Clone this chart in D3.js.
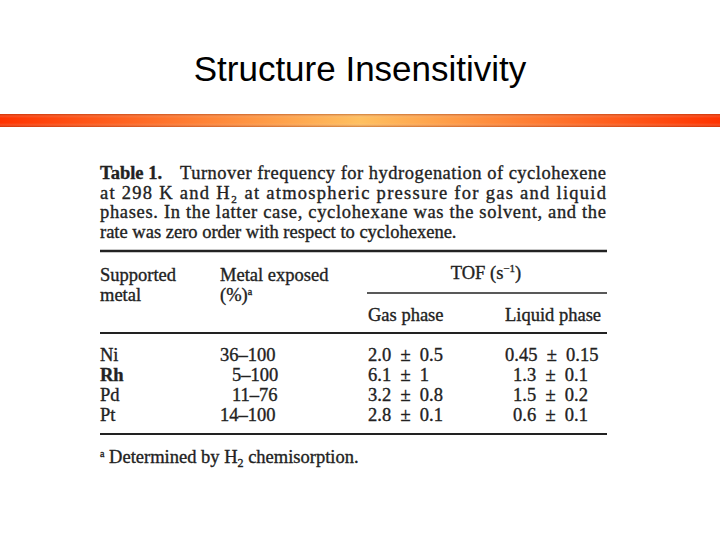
<!DOCTYPE html>
<html><head><meta charset="utf-8">
<script src="https://cdn.jsdelivr.net/npm/d3@7"></script>
<style>body{margin:0;background:#fff}</style></head>
<body><svg id="c" width="720" height="540"></svg>
<script>
const metals = ["Ni","Rh","Pd","Pt"];
const exposed = ["36–100","5–100","11–76","14–100"];
const gasPhase = ["2.0 ± 0.5","6.1 ± 1","3.2 ± 0.8","2.8 ± 0.1"];
const liquidPhase = ["0.45 ± 0.15","1.3 ± 0.1","1.5 ± 0.2","0.6 ± 0.1"];
const caption = [
 ["Turnover frequency for hydrogenation of cyclohexene", true],
 ["at 298 K and H₂ at atmospheric pressure for gas and liquid", true],
 ["phases. In the latter case, cyclohexane was the solvent, and the", true],
 ["rate was zero order with respect to cyclohexene.", false]
];
const svg = d3.select("#c");
const defs = svg.append("defs");
const g = defs.append("linearGradient").attr("id","bar");
[[0,"#ff3300"],[0.5,"#ffc060"],[1,"#ff3300"]].forEach(([o,c])=>g.append("stop").attr("offset",o).attr("stop-color",c));
const gv = defs.append("linearGradient").attr("id","barv").attr("x1",0).attr("x2",0).attr("y1",0).attr("y2",1);
[[0,"rgba(150,40,0,0.45)"],[0.3,"rgba(255,255,255,0)"],[0.7,"rgba(255,255,255,0)"],[1,"rgba(150,40,0,0.45)"]].forEach(([o,c])=>gv.append("stop").attr("offset",o).attr("stop-color",c));

svg.append("text").attr("x",360).attr("y",81).attr("text-anchor","middle")
 .attr("font-family","Liberation Sans, Arial").attr("font-size",35).text("Structure Insensitivity");
svg.append("rect").attr("x",0).attr("y",114).attr("width",720).attr("height",13).attr("fill","url(#bar)");
svg.append("rect").attr("x",0).attr("y",114).attr("width",720).attr("height",13).attr("fill","url(#barv)");

const serif = "Liberation Serif, Times New Roman, serif";
const T = svg.append("g").attr("font-family",serif).attr("fill","#222").attr("font-size",18.5)
  .attr("stroke","#222").attr("stroke-width",0.35);
const y0 = 179, lh = 19.5;
caption.forEach(([t,just],i)=>{
  const y = y0 + i*lh;
  if(i===0){
    T.append("text").attr("x",100).attr("y",y).attr("font-weight","bold").text("Table 1.");
    T.append("text").attr("x",180).attr("y",y).attr("textLength",426).attr("lengthAdjust","spacing").text(t);
  } else {
    const tx = T.append("text").attr("x",100).attr("y",y).text(t);
    if(just) tx.attr("textLength",506).attr("lengthAdjust","spacing");
  }
});
const line=(x1,x2,y,w)=>T.append("line").attr("x1",x1).attr("x2",x2).attr("y1",y).attr("y2",y).attr("stroke","#222").attr("stroke-width",w);
line(100,607,251,2.4);
line(367,607,293,1.6);
line(100,607,333,2.2);
line(100,607,434,2.2);

const col = d3.scaleOrdinal().domain(["m","e","g","l"]).range([100,220,368,505]);
T.append("text").attr("x",col("m")).attr("y",281).text("Supported");
T.append("text").attr("x",col("m")).attr("y",301).text("metal");
T.append("text").attr("x",col("e")).attr("y",281).text("Metal exposed");
const pc = T.append("text").attr("x",col("e")).attr("y",301).text("(%)");
pc.append("tspan").attr("font-size",10).attr("dy",-6).text("a");
const tof = T.append("text").attr("x",486).attr("y",279).attr("text-anchor","middle").text("TOF (s");
tof.append("tspan").attr("font-size",11).attr("dy",-7).text("−1");
tof.append("tspan").attr("dy",7).text(")");
T.append("text").attr("x",col("g")).attr("y",321).text("Gas phase");
T.append("text").attr("x",col("l")).attr("y",321).text("Liquid phase");

const row = d3.scaleBand().domain(metals).range([347,427]);
const pm = s => s.replace(" ± ","  ±  ");
metals.forEach((m,i)=>{
  const y = row(m)+14;
  T.append("text").attr("x",col("m")).attr("y",y).attr("font-weight",m==="Rh"?"bold":"normal").text(m);
  T.append("text").attr("x",col("e")+(exposed[i].length<6?12:0)).attr("y",y).text(exposed[i]);
  T.append("text").attr("x",col("g")).attr("y",y).attr("xml:space","preserve").style("white-space","pre").text(pm(gasPhase[i]));
  T.append("text").attr("x",col("l")+(liquidPhase[i].length<11?8:0)).attr("y",y).style("white-space","pre").text(pm(liquidPhase[i]));
});
const fn = T.append("text").attr("x",100).attr("y",463);
fn.append("tspan").attr("font-size",10).attr("dy",-6).text("a");
fn.append("tspan").attr("dy",6).text(" Determined by H");
fn.append("tspan").attr("font-size",12).attr("dy",4).text("2");
fn.append("tspan").attr("dy",-4).text(" chemisorption.");
</script></body></html>
